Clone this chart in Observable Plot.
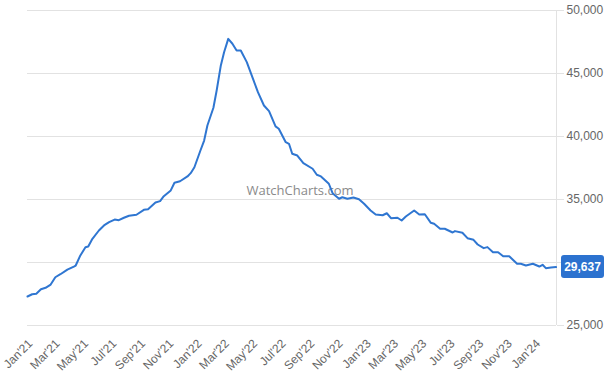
<!DOCTYPE html>
<html>
<head>
<meta charset="utf-8">
<script src="https://cdn.jsdelivr.net/npm/d3@7"></script>
<script src="https://cdn.jsdelivr.net/npm/@observablehq/plot@0.6"></script>
<style>
  html, body { margin: 0; padding: 0; background: #fff; }
  #chart svg { display: block; }
</style>
</head>
<body>
<div id="chart"></div>
<script>
const dates = [
  "2021-01-01","2021-01-11","2021-01-20","2021-01-30","2021-02-09","2021-02-20","2021-03-02","2021-03-13","2021-03-28","2021-04-11",
  "2021-04-15","2021-04-25","2021-05-06","2021-05-12","2021-05-21","2021-06-04","2021-06-15","2021-06-26","2021-07-08","2021-07-17",
  "2021-07-28","2021-08-08","2021-08-24","2021-09-09","2021-09-18","2021-10-04","2021-10-14","2021-10-22","2021-11-06","2021-11-14",
  "2021-11-26","2021-12-12","2021-12-19","2021-12-27","2022-01-09","2022-01-17","2022-01-24","2022-02-06","2022-02-13","2022-02-22",
  "2022-03-01","2022-03-10","2022-03-19","2022-03-28","2022-04-06","2022-04-19","2022-05-01","2022-05-13","2022-05-26","2022-06-06",
  "2022-06-20","2022-06-27","2022-07-12","2022-07-19","2022-07-26","2022-08-06","2022-08-19","2022-09-08","2022-09-17","2022-09-26",
  "2022-10-13","2022-10-21","2022-11-04","2022-11-11","2022-11-22","2022-12-05","2022-12-17","2022-12-28","2023-01-11","2023-01-22",
  "2023-02-06","2023-02-15","2023-02-24","2023-03-10","2023-03-19","2023-03-28","2023-04-15","2023-04-26","2023-05-08","2023-05-21",
  "2023-05-28","2023-06-10","2023-06-20","2023-07-07","2023-07-12","2023-07-28","2023-08-08","2023-08-21","2023-08-30","2023-09-12",
  "2023-09-20","2023-10-02","2023-10-13","2023-10-24","2023-11-06","2023-11-23","2023-12-01","2023-12-12","2023-12-27","2024-01-10",
  "2024-01-17","2024-01-24","2024-02-04","2024-02-15"
];
const prices = [
  27300,27480,27520,27880,27990,28250,28830,29070,29440,29680,
  29760,30560,31210,31270,31880,32540,32940,33200,33410,33360,
  33550,33710,33790,34180,34230,34760,34870,35260,35720,36330,
  36450,36830,37090,37560,38890,39680,40870,42280,43650,45640,
  46690,47750,47360,46830,46830,45900,44710,43520,42460,42010,
  40800,40610,39550,39420,38630,38490,37880,37440,36960,36830,
  36250,35500,35060,35180,35060,35160,35020,34660,34130,33810,
  33750,33910,33520,33550,33330,33650,34130,33810,33830,33150,
  33070,32680,32680,32380,32490,32360,31930,31800,31430,31140,
  31220,30820,30820,30500,30500,29900,29900,29760,29900,29680,
  29820,29550,29600,29637
];
const yTicks = [25000, 30000, 35000, 40000, 45000, 50000];
const xStart = "2021-01-01";
const xEnd = "2024-02-16";
const watermark = "WatchCharts.com";

const data = dates.map((d, i) => ({date: new Date(d), price: prices[i]}));
const last = data[data.length - 1];
const lineColor = "#2f76d1";
// the badge hides the tick label under it
const labelTicks = yTicks.filter(t => Math.abs(t - last.price) > 1500);

const chart = Plot.plot({
  width: 608,
  height: 380,
  marginTop: 10,
  marginBottom: 55,
  marginLeft: 27,
  marginRight: 52,
  style: {fontFamily: "'Liberation Sans', Arial, sans-serif", fontSize: "12px", color: "#666", background: "#fff"},
  x: {type: "utc", domain: [new Date(xStart), new Date(xEnd)]},
  y: {domain: [25000, 50000]},
  marks: [
    Plot.gridY(yTicks, {stroke: "#e2e2e2", strokeOpacity: 1}),
    Plot.ruleX([new Date(xEnd)], {stroke: "#e2e2e2"}),
    Plot.axisY({
      anchor: "right", ticks: yTicks, tickSize: 7, text: null,
      stroke: "#e2e2e2", label: null
    }),
    Plot.axisY({
      anchor: "right", ticks: labelTicks, tickSize: 0, tickPadding: 10,
      tickFormat: d3.format(","), fill: "#666", label: null
    }),
    Plot.axisX({
      ticks: d3.utcMonth.every(2), tickFormat: d3.utcFormat("%b'%y"),
      tickRotate: -45, tickSize: 0, tickPadding: 16, dx: 3, fill: "#666", label: null
    }),
    Plot.text([watermark], {
      frameAnchor: "middle", text: d => d, dx: 8, dy: 23,
      fill: "#8a8a8a", fontSize: 13, fontFamily: "'Open Sans', sans-serif"
    }),
    Plot.lineY(data, {x: "date", y: "price", stroke: lineColor, strokeWidth: 2})
  ]
});

document.getElementById("chart").appendChild(chart);

// End value badge, positioned with the chart's own scales
const sx = chart.scale("x"), sy = chart.scale("y");
const bx = sx.apply(new Date(xEnd)) + 5;
const by = sy.apply(last.price);
const g = d3.select(chart).append("g");
g.append("rect")
  .attr("x", bx).attr("y", by - 11.5)
  .attr("width", 43).attr("height", 23)
  .attr("rx", 3).attr("fill", "#2c72cf");
g.append("text")
  .attr("x", bx + 21.5).attr("y", by)
  .attr("dy", "0.35em")
  .attr("text-anchor", "middle")
  .attr("fill", "#fff")
  .attr("font-weight", "bold")
  .attr("font-size", 12)
  .attr("font-family", "'Liberation Sans', Arial, sans-serif")
  .text(d3.format(",")(last.price));
</script>
</body>
</html>
